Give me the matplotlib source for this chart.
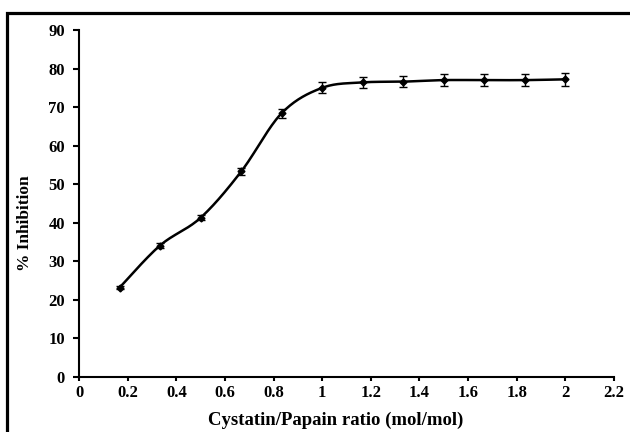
#!/usr/bin/env python3

import numpy as np
import matplotlib.pyplot as plt
from matplotlib.patches import Rectangle

# Data
ratio = [0.167, 0.333, 0.5, 0.667, 0.833, 1.0, 1.167, 1.333, 1.5, 1.667, 1.833, 2.0]
inhibition = [23.2, 34.1, 41.3, 53.3, 68.4, 75.0, 76.4, 76.6, 77.0, 77.0, 77.0, 77.2]
err = [0.4, 0.6, 0.7, 0.9, 1.2, 1.4, 1.5, 1.5, 1.5, 1.5, 1.5, 1.6]

x_ticks = [0, 0.2, 0.4, 0.6, 0.8, 1, 1.2, 1.4, 1.6, 1.8, 2, 2.2]
x_ticklabels = ["0", "0.2", "0.4", "0.6", "0.8", "1", "1.2", "1.4", "1.6", "1.8", "2", "2.2"]
y_ticks = [0, 10, 20, 30, 40, 50, 60, 70, 80, 90]


def smooth_line(xs, ys, n=30):
    # Excel-style smoothed line (Bezier through the points)
    p = np.column_stack([xs, ys])
    pts = np.vstack([p[0], p, p[-1]])
    out = []
    t = np.linspace(0, 1, n)[:, None]
    for i in range(1, len(pts) - 2):
        p0, p3 = pts[i], pts[i + 1]
        c1 = p0 + (pts[i + 1] - pts[i - 1]) / 6
        c2 = p3 - (pts[i + 2] - pts[i]) / 6
        seg = ((1 - t)**3 * p0 + 3 * (1 - t)**2 * t * c1
               + 3 * (1 - t) * t**2 * c2 + t**3 * p3)
        out.append(seg)
    out = np.vstack(out)
    return out[:, 0], out[:, 1]


plt.rcParams['font.family'] = ['Liberation Serif', 'DejaVu Serif']

fig = plt.figure(figsize=(6.3, 4.32), dpi=100)
ax = fig.add_axes([0.1254, 0.1273, 0.8492, 0.8033])

# frame around the figure
fig.patches.append(Rectangle((7 / 630, -0.1), 1.2, 1.1 - 13 / 432,
                             transform=fig.transFigure, fill=False,
                             edgecolor='black', linewidth=2.3, zorder=0))

sx, sy = smooth_line(ratio, inhibition)
ax.plot(sx, sy, color='black', linewidth=1.8)
ax.errorbar(ratio, inhibition, yerr=err, fmt='D', color='black',
            markersize=3.5, elinewidth=1, capsize=3, capthick=1)

ax.set_xlim(0, 2.2)
ax.set_ylim(0, 90)
ax.set_xticks(x_ticks)
ax.set_xticklabels(x_ticklabels)
ax.set_yticks(y_ticks)

for side in ['top', 'right']:
    ax.spines[side].set_visible(False)
for side in ['left', 'bottom']:
    ax.spines[side].set_linewidth(1.5)

ax.tick_params(direction='out', width=1.5, labelsize=12)
ax.tick_params(axis='x', length=3, pad=3)
ax.tick_params(axis='y', length=4, pad=6)
for lbl in ax.get_xticklabels() + ax.get_yticklabels():
    lbl.set_fontweight('bold')

ax.set_xlabel("Cystatin/Papain ratio (mol/mol)", fontsize=13.5,
              fontweight='bold')
ax.set_ylabel("% Inhibition", fontsize=12.5, fontweight='bold')
ax.xaxis.set_label_coords(0.479, -0.124)
ax.yaxis.set_label_coords(-0.101, 0.444)
ax.xaxis.label.set_va('center')
ax.yaxis.label.set_va('center')

fig.savefig("out.png", dpi=100)
